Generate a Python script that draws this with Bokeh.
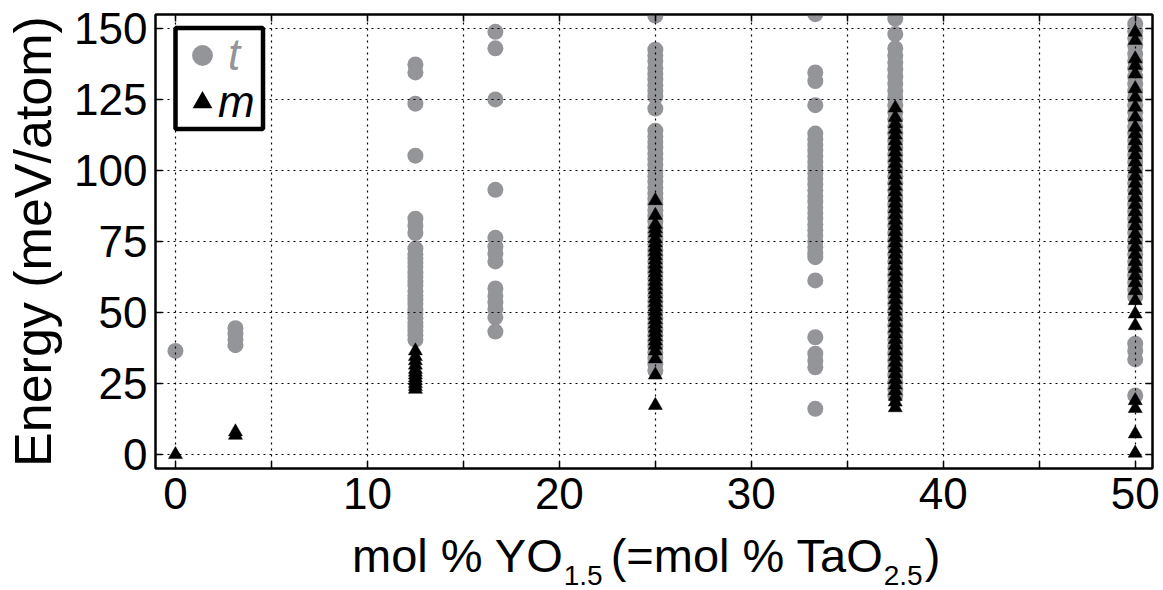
from bokeh.plotting import figure
from bokeh.models import (Range1d, FixedTicker, LinearAxis, Legend, LegendItem,
                          BoxAnnotation, Div)
from bokeh.layouts import column
from bokeh.embed import file_html
from bokeh.resources import INLINE

# ---------------- data ----------------
compositions = [0, 3.125, 12.5, 16.667, 25, 33.333, 37.5, 50]

t_0 = [36.5]
t_3 = [38.5, 40.5, 42.5, 44.5]
t_12 = [137.3, 134.5, 123.5, 105.2, 83, 80.5, 78, 72.5, 70.5, 69, 67.5, 66, 64,
        62.5, 61, 59.5, 57.5, 56, 54.5, 53, 51, 49.5, 48, 46.5, 45, 43.5, 42, 40.5]
t_16 = [148.8, 143, 125, 93.2, 76.3, 73.2, 70.8, 68, 58.5, 55.8, 53.5, 51.2, 48.3, 43.3]
t_25 = [154.5, 142.5, 140.5, 138.5, 136, 134, 132, 130, 128, 126, 121.8, 114, 112,
        110, 108, 106, 104, 102, 100, 98, 96, 94, 92, 90, 88, 86, 84, 82, 80, 78,
        76, 74, 72, 70, 68, 66, 64, 62, 60, 58, 56, 54, 52, 50, 48, 46, 44, 42, 40,
        38, 36, 34, 32, 29.6]
t_33 = [155, 134.5, 131.5, 123, 113, 111, 109, 107, 105, 103, 101, 99, 97, 95, 93,
        91, 89, 87, 85, 83, 81, 79, 77, 75, 73, 71, 69.5, 61.3, 41.3, 35.5, 33,
        30.7, 16.1]
t_37 = [153.5, 148, 143, 140.5, 138, 135.5, 133, 130.5, 128, 125.5, 123, 120.5, 118,
        115.5, 113, 110.5, 108, 105.5, 103, 100.5, 98, 95.5, 93, 90.5, 88, 85.5, 83,
        80.5, 78, 75.5, 73, 70.5, 68, 65.5, 63, 60.5, 58, 55.5, 53, 50.5, 48, 45.5,
        43, 40.5, 38, 35.5, 33, 30.5, 28, 25.5, 23, 20.8]
t_50 = [151.6, 149, 146.5, 144, 141, 138.5, 136, 133, 130.5, 128, 125.5, 123, 120.5,
        118, 115.5, 113, 110.5, 108, 105.5, 103, 100.5, 98, 95.5, 93, 90.5, 88, 85.5,
        83, 80.5, 78, 75.5, 73, 70.5, 68, 65.5, 63, 60.5, 58, 55.5, 39, 36.5, 33.5,
        20.8]

m_0 = [0]
m_3 = [6.8, 8.0]
m_12 = [36.5, 34.5, 33, 31.5, 30, 29, 28, 27, 26, 25, 24, 23]
m_16 = []
m_25 = [89.4, 84.2, 81, 79.5, 78, 76, 74.5, 73, 71.5, 70, 68.5, 67, 65.5, 64, 62.5,
        61, 59.5, 58, 56.5, 55, 53.5, 52, 50.5, 49, 47.5, 46, 44.5, 43, 41.5, 40,
        38.5, 36.5, 33.7, 28, 17.3]
m_33 = []
m_37 = [122, 118.7, 116.5, 114.5, 112.5, 110.5, 108.5, 106.5, 104.5, 102.5, 100.5,
        98.5, 96.5, 94.5, 92.5, 90.5, 88.5, 86.5, 84.5, 82.5, 80.5, 78.5, 76.5, 74.5,
        72.5, 70.5, 68.5, 66.5, 64.5, 62.5, 60.5, 58.5, 56.5, 54.5, 52.5, 50.5, 48.5,
        46.5, 44.5, 42.5, 40.5, 38.5, 36.5, 34.5, 32.5, 30.5, 28.5, 26.5, 24.5, 22.5,
        20.5, 18.5, 16.5]
m_50 = [148.7, 145.8, 139.3, 137, 134, 128.8, 125.8, 122.3, 118.8, 115.2, 112.9,
        110.5, 108, 105.5, 103, 100.5, 98, 95.5, 93, 90.5, 88, 85.5, 83, 80.5, 77.7,
        75.5, 73, 70.5, 68, 65.5, 63, 60.5, 57.7, 54.2, 49.5, 45.4, 19, 16.2, 7.3, 0.5]

t_series = [t_0, t_3, t_12, t_16, t_25, t_33, t_37, t_50]
m_series = [m_0, m_3, m_12, m_16, m_25, m_33, m_37, m_50]

x_ticks = [0, 5, 10, 15, 20, 25, 30, 35, 40, 45, 50]
x_tick_labels = ["0", "", "10", "", "20", "", "30", "", "40", "", "50"]
y_ticks = [0, 25, 50, 75, 100, 125, 150]

legend_labels = ["t", "m"]
y_label = "Energy (meV/atom)"
x_label_main1 = "mol % YO"
x_label_sub1 = "1.5"
x_label_main2 = "(=mol % TaO"
x_label_sub2 = "2.5"
x_label_main3 = ")"

# ---------------- styling ----------------
GRAY = "#939598"
FONT = "Liberation Sans"
W, H_FIG, H_DIV = 1163, 530, 60
FL, FR, FT, FB = 155, 1152, 14, 468  # frame edges in px
X0, X1 = -1.04, 50.9
Y0, Y1 = -4.9, 154.9


def dx(px):
    return X0 + (px - FL) / (FR - FL) * (X1 - X0)


def dy(py):
    return Y0 + (FB - py) / (FB - FT) * (Y1 - Y0)


tx, ty, mx, my = [], [], [], []
for c, ts, ms in zip(compositions, t_series, m_series):
    tx += [c] * len(ts)
    ty += ts
    mx += [c] * len(ms)
    my += ms

p = figure(width=W, height=H_FIG, x_range=Range1d(X0, X1), y_range=Range1d(Y0, Y1),
           output_backend="svg", toolbar_location=None,
           min_border_left=FL, min_border_right=W - FR,
           min_border_top=FT, min_border_bottom=H_FIG - FB)
p.background_fill_color = "white"
p.border_fill_color = "white"
p.outline_line_color = "black"
p.outline_line_width = 2

xt = FixedTicker(ticks=x_ticks)
yt = FixedTicker(ticks=y_ticks)

bottom_ax = p.below[0]
left_ax = p.left[0]
bottom_ax.ticker = xt
bottom_ax.major_label_overrides = {t: l for t, l in zip(x_ticks, x_tick_labels)}
bottom_ax.major_label_standoff = 9
left_ax.ticker = yt
left_ax.major_label_standoff = 8

top_ax = LinearAxis(ticker=xt, major_label_standoff=0,
                    major_label_overrides={t: "" for t in x_ticks})
right_ax = LinearAxis(ticker=yt, major_label_standoff=0,
                      major_label_overrides={t: "" for t in y_ticks})
p.add_layout(top_ax, "above")
p.add_layout(right_ax, "right")

for ax in [bottom_ax, left_ax, top_ax, right_ax]:
    ax.axis_line_width = 2
    ax.axis_line_color = "black"
    ax.major_tick_in = 7
    ax.major_tick_out = 0
    ax.major_tick_line_width = 1.5
    ax.minor_tick_in = 0
    ax.minor_tick_out = 0
    ax.major_label_text_font = FONT
    ax.major_label_text_color = "black"
bottom_ax.major_label_text_font_size = "44px"
left_ax.major_label_text_font_size = "44px"
top_ax.major_label_text_font_size = "8px"
right_ax.major_label_text_font_size = "8px"

left_ax.axis_label = y_label
left_ax.axis_label_text_font = FONT
left_ax.axis_label_text_font_size = "52px"
left_ax.axis_label_text_font_style = "normal"
left_ax.axis_label_text_color = "black"
left_ax.axis_label_standoff = 9

for g, tk in [(p.xgrid[0], xt), (p.ygrid[0], yt)]:
    g.ticker = tk
    g.grid_line_color = "black"
    g.grid_line_dash = "2 4"
    g.grid_line_width = 1.2
    g.level = "annotation"

r_t = p.scatter(x=tx, y=ty, marker="circle", size=16, fill_color=GRAY,
                line_color=None)
r_m = p.scatter(x=mx, y=my, marker="triangle", size=14, fill_color="black",
                line_color="black", line_width=0.5)
# same data, not drawn: only supplies the bolder legend symbol for "m"
r_m_key = p.scatter(x=mx, y=my, marker="triangle", fill_color="black",
                    line_color="black", line_width=4, line_join="miter",
                    visible=False)

# legend frame
box = BoxAnnotation(left=dx(175), right=dx(262.5), top=dy(27.5), bottom=dy(128.5),
                    fill_color="white", fill_alpha=1.0, line_color="black",
                    line_alpha=1.0, line_width=4.5, level="annotation",
                    editable=False)
p.add_layout(box)

common = dict(border_line_color=None, background_fill_alpha=0, padding=0, margin=0,
              label_text_font=FONT, label_text_font_size="44px",
              label_text_font_style="italic", spacing=0, label_standoff=0)
leg_t = Legend(items=[LegendItem(label=legend_labels[0], renderers=[r_t])],
               location=(176 - FL, FB - (29 + 52)), glyph_width=52, glyph_height=52,
               label_text_color=GRAY, **common)
leg_m = Legend(items=[LegendItem(label=legend_labels[1], renderers=[r_m_key])],
               location=(186 - FL, FB - (101 + 25.5)), glyph_width=32, glyph_height=32,
               label_text_color="black", **common)
p.add_layout(leg_t)
p.add_layout(leg_m)

# x axis label (with subscripts) as real HTML text beneath the plot
SUBSTYLE = "font-size:28px;position:relative;top:13px;line-height:0;"
html = (
    '<div style="position:relative;width:1163px;height:60px;">'
    '<div style="position:absolute;left:352px;top:2px;white-space:nowrap;'
    f"font-family:'{FONT}';font-size:47px;line-height:47px;color:#000;\">"
    f'<span>{x_label_main1}</span>'
    f'<span style="{SUBSTYLE}margin-left:1px;">{x_label_sub1}</span>'
    f'<span style="margin-left:8px;">{x_label_main2}</span>'
    f'<span style="{SUBSTYLE}margin-left:1px;">{x_label_sub2}</span>'
    f'<span style="margin-left:2px;">{x_label_main3}</span>'
    '</div></div>'
)
div = Div(text=html, width=W, height=H_DIV, margin=0)

layout = column(p, div, spacing=0)
open("out.html", "w").write(file_html(layout, INLINE))
